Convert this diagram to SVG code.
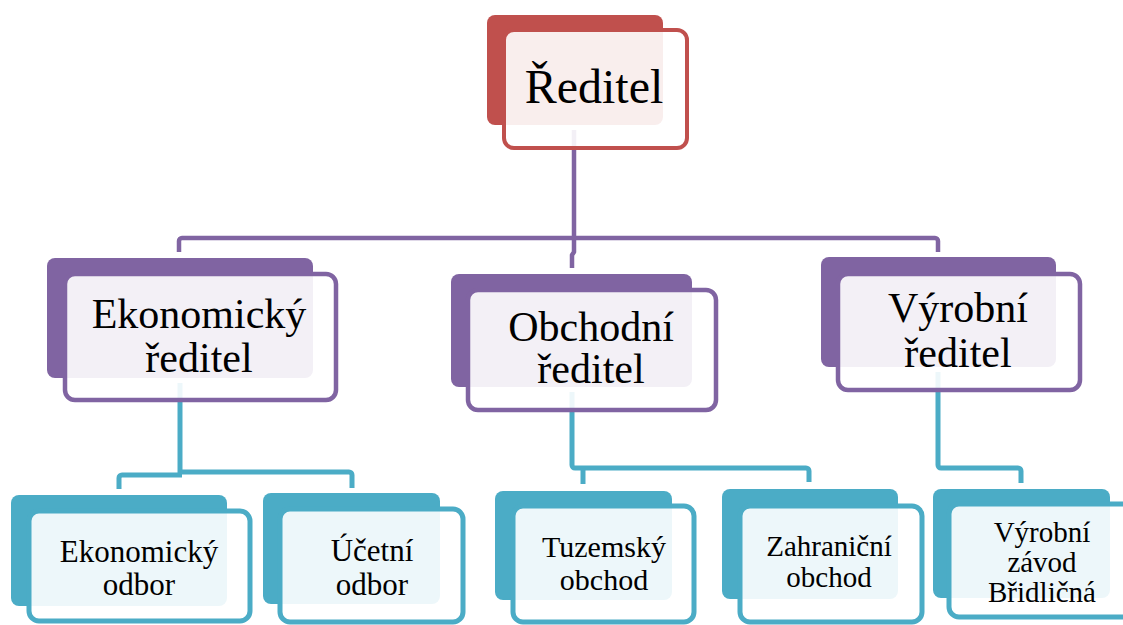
<svg xmlns="http://www.w3.org/2000/svg" width="1123" height="625" viewBox="0 0 1123 625">
<style>
.bg{fill:#FFFFFF}
.red{fill:#C0504D}
.pur{fill:#8064A2}
.teal{fill:#4BACC6}
.fr{fill:#FFFFFF;fill-opacity:0.9}
.fr-red{stroke:#C0504D;stroke-width:4}
.fr-pur{stroke:#8064A2;stroke-width:4.5}
.fr-teal{stroke:#4BACC6;stroke-width:5}
.con{fill:none;stroke-linejoin:round}
.con-pur{stroke:#8064A2;stroke-width:4.5}
.con-teal{stroke:#4BACC6;stroke-width:5}
.lbl{font-family:'Liberation Serif', 'Times New Roman', serif;fill:#000000;text-anchor:middle}
.t1{font-size:48px}
.t2{font-size:42px}
.t3{font-size:31px}
</style>
<rect class="bg" x="0" y="0" width="1123" height="625"/>
<g id="connectors">
<path class="con con-pur" d="M574,130 V252 L572,255 V268"/>
<path class="con con-pur" d="M179,252 V241 a3,3 0 0 1 3,-3 H935 a3,3 0 0 1 3,3 V252"/>
<path class="con con-teal" d="M180,383 V474"/>
<path class="con con-teal" d="M119,489 V478 a3,3 0 0 1 3,-3 H182"/>
<path class="con con-teal" d="M178,472 H349 a3,3 0 0 1 3,3 V488"/>
<path class="con con-teal" d="M572,392 V465 a3,3 0 0 0 3,3 H806 a3,3 0 0 1 3,3 V482"/>
<path class="con con-teal" d="M583,468 V484"/>
<path class="con con-teal" d="M938,372 V465 a3,3 0 0 0 3,3 H1018 a3,3 0 0 1 3,3 V483"/>
</g>
<g id="node-reditel">
<rect class="red" x="487" y="15" width="176" height="110" rx="8"/>
<rect class="fr fr-red" x="504" y="30" width="183" height="118" rx="10"/>
<text class="lbl t1" x="594" y="103">Ředitel</text>
</g>
<g id="node-ekonomicky-reditel">
<rect class="pur" x="47" y="258" width="266" height="120" rx="8"/>
<rect class="fr fr-pur" x="65" y="274" width="271" height="126" rx="10"/>
<text class="lbl t2" x="199" y="328">Ekonomický</text>
<text class="lbl t2" x="199" y="372">ředitel</text>
</g>
<g id="node-obchodni-reditel">
<rect class="pur" x="451" y="274" width="241" height="113" rx="8"/>
<rect class="fr fr-pur" x="468" y="290" width="248" height="120" rx="10"/>
<text class="lbl t2" x="591" y="341">Obchodní</text>
<text class="lbl t2" x="591" y="383">ředitel</text>
</g>
<g id="node-vyrobni-reditel">
<rect class="pur" x="821" y="257" width="235" height="110" rx="8"/>
<rect class="fr fr-pur" x="838" y="274" width="242" height="116" rx="10"/>
<text class="lbl t2" x="958" y="322">Výrobní</text>
<text class="lbl t2" x="958" y="367">ředitel</text>
</g>
<g id="node-ekonomicky-odbor">
<rect class="teal" x="11" y="495" width="216" height="111" rx="8"/>
<rect class="fr fr-teal" x="29" y="511" width="221" height="110" rx="10"/>
<text class="lbl t3" x="139" y="562">Ekonomický</text>
<text class="lbl t3" x="139" y="595">odbor</text>
</g>
<g id="node-ucetni-odbor">
<rect class="teal" x="263" y="493" width="177" height="111" rx="8"/>
<rect class="fr fr-teal" x="280" y="509" width="183" height="113" rx="10"/>
<text class="lbl t3" x="372" y="561">Účetní</text>
<text class="lbl t3" x="372" y="595">odbor</text>
</g>
<g id="node-tuzemsky-obchod">
<rect class="teal" x="495" y="491" width="177" height="109" rx="8"/>
<rect class="fr fr-teal" x="513" y="506" width="181" height="116" rx="10"/>
<text class="lbl t3" x="604" y="557" style="font-size:30px">Tuzemský</text>
<text class="lbl t3" x="604" y="590" style="font-size:30px">obchod</text>
</g>
<g id="node-zahranicni-obchod">
<rect class="teal" x="722" y="489" width="176" height="110" rx="8"/>
<rect class="fr fr-teal" x="740" y="506" width="182" height="116" rx="10"/>
<text class="lbl t3" x="829" y="556" style="font-size:29px">Zahraniční</text>
<text class="lbl t3" x="829" y="587" style="font-size:29px">obchod</text>
</g>
<g id="node-vyrobni-zavod">
<rect class="teal" x="933" y="489" width="177" height="109" rx="8"/>
<rect class="fr fr-teal" x="949" y="504" width="190" height="113" rx="10"/>
<text class="lbl t3" x="1042" y="542" style="font-size:29px">Výrobní</text>
<text class="lbl t3" x="1042" y="572" style="font-size:29px">závod</text>
<text class="lbl t3" x="1042" y="602" style="font-size:29px">Břidličná</text>
</g>
</svg>
